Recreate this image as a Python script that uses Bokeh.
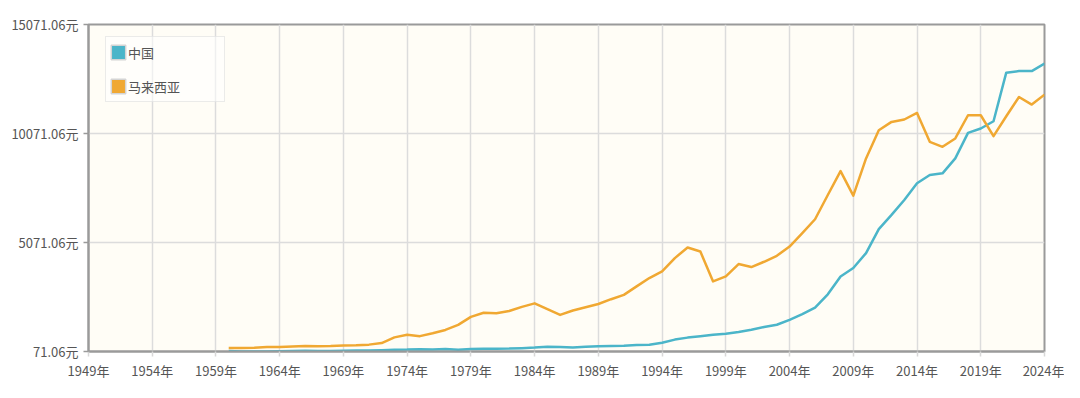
from bokeh.plotting import figure
from bokeh.models import (Range1d, FixedTicker, Legend, LegendItem, ColumnDataSource)
from bokeh.embed import file_html
from bokeh.resources import INLINE

# ---- data (GDP per capita) ----
years = list(range(1960, 2025))
china = [90, 76, 70, 74, 85, 98, 104, 97, 91, 100,
         113, 119, 132, 157, 160, 178, 165, 185, 156, 183,
         195, 197, 203, 225, 250, 294, 282, 252, 284, 311,
         318, 334, 367, 377, 470, 617, 708, 767, 836, 887,
         966, 1071, 1193, 1298, 1525, 1784, 2084, 2693, 3514, 3899,
         4585, 5682, 6336, 7022, 7786, 8165, 8243, 8929, 10099, 10300,
         10634, 12862, 12935, 12935, 13273]
malaysia = [235, 234, 242, 279, 282, 306, 320, 316, 322, 347,
            358, 386, 460, 720, 840, 775, 910, 1060, 1290, 1660,
            1850, 1830, 1930, 2120, 2280, 2010, 1750, 1950, 2100, 2250,
            2470, 2670, 3057, 3441, 3743, 4356, 4841, 4658, 3286, 3514,
            4081, 3944, 4187, 4461, 4886, 5499, 6139, 7251, 8348, 7219,
            8929, 10223, 10603, 10713, 11014, 9688, 9460, 9843, 10909, 10909,
            9949, 10863, 11746, 11398, 11855]
series_names = ["中国", "马来西亚"]
x_ticks = list(range(1949, 2025, 5))
x_tick_labels = [f"{t}年" for t in x_ticks]
y_ticks = [71.06, 5071.06, 10071.06, 15071.06]
y_tick_labels = ["71.06元", "5071.06元", "10071.06元", "15071.06元"]

colors = ["#4BB5C9", "#F0A832"]
FONT = "Noto Sans CJK SC"

p = figure(width=1064, height=382, output_backend="svg", toolbar_location=None,
           x_range=Range1d(1949, 2024), y_range=Range1d(71.06, 15071.06),
           min_border_left=88, min_border_right=20, min_border_top=24,
           min_border_bottom=30)
p.background_fill_color = "#FFFDF6"
p.border_fill_color = "#FFFFFF"
p.outline_line_color = "#9a9a9a"
p.outline_line_width = 2

src = ColumnDataSource(dict(year=years, china=china, malaysia=malaysia))
p.line("year", "china", source=src, color=colors[0], line_width=2.5, line_join="round")
p.line("year", "malaysia", source=src, color=colors[1], line_width=2.5, line_join="round")

# legend swatches
sw = []
for c in colors:
    r = p.quad(left=[float("nan")], right=[float("nan")], top=[float("nan")],
               bottom=[float("nan")], fill_color=c, line_color="#d4d4d4", line_width=1.5)
    sw.append(r)

legend = Legend(items=[LegendItem(label=n, renderers=[r]) for n, r in zip(series_names, sw)],
                location=(17, 249), orientation="vertical")
legend.padding = 3
legend.spacing = 10
legend.glyph_width = 18
legend.glyph_height = 18
legend.label_height = 24
legend.label_width = 93
legend.label_standoff = 1
legend.margin = 0
legend.label_text_font = FONT
legend.label_text_font_size = "13px"
legend.label_text_color = "#555555"
legend.border_line_color = "#d8d8d8"
legend.border_line_width = 1.5
legend.background_fill_color = "#ffffff"
legend.background_fill_alpha = 0.55
p.add_layout(legend)

# axes
p.xaxis.ticker = FixedTicker(ticks=x_ticks)
p.xaxis.major_label_overrides = dict(zip(x_ticks, x_tick_labels))
p.yaxis.ticker = FixedTicker(ticks=y_ticks)
p.yaxis.major_label_overrides = dict(zip(y_ticks, y_tick_labels))
for ax in (p.xaxis, p.yaxis):
    ax.axis_line_color = "#9a9a9a"
    ax.axis_line_width = 2
    ax.minor_tick_line_color = None
    ax.major_label_text_font = FONT
    ax.major_label_text_font_size = "13px"
    ax.major_label_text_color = "#555555"
p.xaxis.major_tick_line_color = "#d8d8d8"
p.xaxis.major_tick_line_width = 1.5
p.xaxis.major_tick_out = 5
p.xaxis.major_tick_in = 0
p.xaxis.major_label_standoff = 4
p.yaxis.major_tick_line_color = "#9a9a9a"
p.yaxis.major_tick_line_width = 1.5
p.yaxis.major_tick_out = 5
p.yaxis.major_tick_in = 0
p.yaxis.major_label_standoff = 5

p.xgrid.ticker = FixedTicker(ticks=x_ticks)
p.ygrid.ticker = FixedTicker(ticks=y_ticks)
p.grid.grid_line_color = "#dcdcdc"
p.grid.grid_line_width = 1.5

open("out.html", "w").write(file_html(p, INLINE))
